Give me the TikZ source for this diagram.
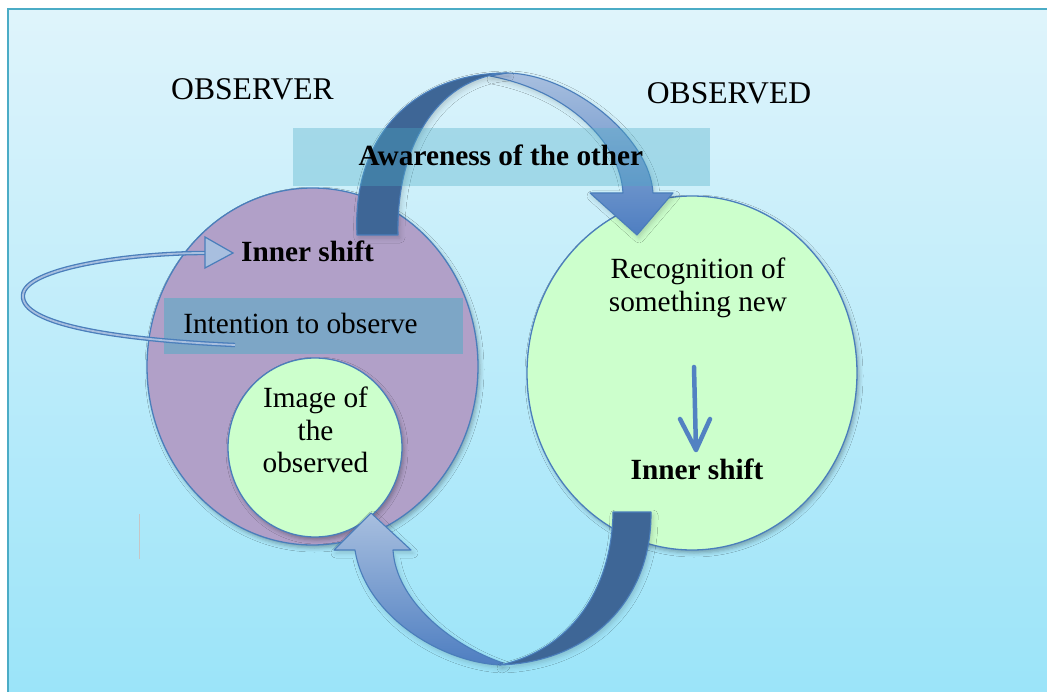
\documentclass[tikz,border=0pt]{standalone}
\usepackage{fontspec}
\setmainfont{Liberation Serif}
\usetikzlibrary{shapes.geometric,shadows.blur}

\definecolor{bgtop}{RGB}{223,244,251}
\definecolor{bgbot}{RGB}{155,228,249}
\definecolor{framecol}{RGB}{75,172,198}
\definecolor{lilac}{RGB}{177,160,200}
\definecolor{mint}{RGB}{204,255,204}
\definecolor{edgeblue}{RGB}{74,126,187}
\definecolor{deepblue}{RGB}{62,102,150}
\definecolor{paleblue}{RGB}{168,191,223}
\definecolor{midblue}{RGB}{78,126,193}
\definecolor{aqua}{RGB}{75,172,198}
\definecolor{stemblue}{RGB}{82,130,194}

\begin{document}
\begin{tikzpicture}[x=1pt,y=-1pt,
  soft/.style={blur shadow={shadow xshift=2pt,shadow yshift=-3pt,
      shadow blur radius=4pt,shadow opacity=30}},
  faint/.style={blur shadow={shadow xshift=2pt,shadow yshift=-3pt,
      shadow blur radius=5pt,shadow opacity=18}},
  bubble/.style={ellipse,inner sep=0pt,draw=edgeblue,line width=1.3pt,soft},
  ribbon/.style={draw=edgeblue,line width=1.1pt,line join=round,faint},
  band/.style={fill=aqua,draw=none},
  txt/.style={font=\fontsize{29.3}{32.5}\selectfont,inner sep=0pt},
  boldtxt/.style={font=\fontsize{29.3}{32.5}\selectfont\bfseries,inner sep=0pt},
  heading/.style={font=\fontsize{31.6}{36}\selectfont,inner sep=0pt}]

% page and backdrop
\useasboundingbox (0,0) rectangle (1047,692);
\fill[white] (0,0) rectangle (1047,692);
\shade[top color=bgtop,bottom color=bgbot] (8,9) rectangle (1047,692);
\draw[framecol,line width=2pt] (8,692) -- (8,9) -- (1047,9);

% the two circles and the inner image
\node[bubble,fill=lilac,minimum width=331pt,minimum height=357pt] (observer) at (312.5,366.5) {};
\node[bubble,fill=mint,minimum width=174pt,minimum height=179pt] (image) at (315,447.5) {};
\node[bubble,fill=mint,minimum width=330pt,minimum height=354pt] (observed) at (692,373) {};

% upper curved arrow: observer -> observed
\path[ribbon,top color=paleblue,bottom color=midblue]
  (507,73) .. controls (572,74) and (650,138) .. (653,193)
  -- (673,193) -- (637,235) -- (590,193) -- (623,193)
  .. controls (620,140) and (565,90) .. (490,76) -- cycle;
\path[ribbon,fill=deepblue]
  (357,235) .. controls (352,140) and (410,73) .. (507,73)
  .. controls (435,78) and (396,150) .. (398,235) -- cycle;

% lower curved arrow: observed -> image of the observed
\path[ribbon,top color=paleblue,bottom color=midblue]
  (500,665) .. controls (440,662) and (365,615) .. (355,550)
  -- (334,550) -- (371,513) -- (411,550) -- (393,550)
  .. controls (396,600) and (450,645) .. (503,663) -- cycle;
\path[ribbon,fill=deepblue]
  (613,512) -- (651,512) .. controls (652,600) and (590,662) .. (500,665)
  .. controls (570,650) and (612,590) .. (613,512) -- cycle;

% translucent label bands
\fill[band,opacity=0.35] (293,128) rectangle (710,186);
\fill[band,opacity=0.5] (164,298) rectangle (463,354);

% loop arrow from the intention back to the inner shift
\coordinate (looptail) at (235,345);
\coordinate (loophead) at (205,253);
\draw[draw=edgeblue,double=paleblue,double distance=1.8pt,line width=1.3pt]
  (looptail) .. controls (120,340) and (20,325) .. (23,295)
  .. controls (25,268) and (130,253) .. (loophead);
\draw[edgeblue,fill=paleblue,line width=1.2pt,line join=miter]
  (205,237) -- (233,253) -- (205,268) -- cycle;

% labels
\node[heading,anchor=base] (obsrtitle) at (252.5,99.5) {OBSERVER};
\node[heading,anchor=base] (obsdtitle) at (729,104) {OBSERVED};
\node[boldtxt,anchor=base] (aware) at (501,166) {Awareness of the other};
\node[boldtxt,anchor=base] (shiftL) at (307.5,262) {Inner shift};
\node[txt,anchor=base] (intent) at (300.5,334) {Intention to observe};
\node[txt,align=center] (recog) at (698,288) {Recognition of\\something new};
\node[txt,align=center] (imagetxt) at (315.5,430) {Image of\\the\\observed};
\node[boldtxt,anchor=base] (shiftR) at (697,479) {Inner shift};

% small arrow inside the observed circle
\coordinate (d1) at (694,367);
\coordinate (d2) at (696,450);
\draw[stemblue,line width=4.5pt,line cap=round,line join=round]
  (d1) -- (d2) (d2) +(-16,-31) -- (d2) -- +(14,-31);

% faint stray mark
\draw[gray!45,line width=0.7pt] (139,514) -- (139,559);
\end{tikzpicture}
\end{document}
